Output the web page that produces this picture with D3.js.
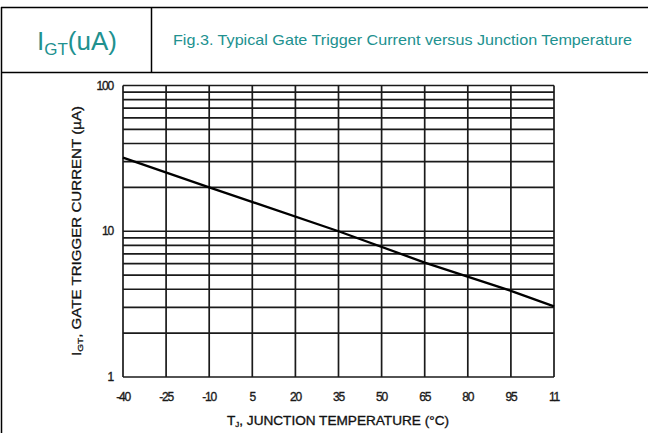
<!DOCTYPE html>
<html><head><meta charset="utf-8">
<script src="https://cdn.jsdelivr.net/npm/d3@7"></script>
<style>body{margin:0;background:#fff}svg{display:block}</style>
</head><body>
<svg id="c" width="648" height="433"></svg>
<script>
const tempTicks = [-40,-25,-10,5,20,35,50,65,80,95,110];
const tempLabels = ["-40","-25","-10","5","20","35","50","65","80","95","11"];
const currentTicks = [1,10,100];
const currentLabels = ["1","10","100"];
const curveTemp = [-40,-10,35,65,95,110];
const curveCurrent = [32,20,10,6.1,3.9,3.05];
const headerLeft = "I";
const headerSub = "GT";
const headerUnit = "(uA)";
const headerTitle = "Fig.3. Typical Gate Trigger Current versus Junction Temperature";

const svg = d3.select("#c");
const teal = "#21918f";
svg.append("line").attr("x1",1).attr("x2",648).attr("y1",7.5).attr("y2",7.5).attr("stroke","#000").attr("stroke-width",1.5);
svg.append("line").attr("x1",1).attr("x2",648).attr("y1",72.5).attr("y2",72.5).attr("stroke","#000").attr("stroke-width",1.5);
svg.append("line").attr("x1",1.5).attr("x2",1.5).attr("y1",7).attr("y2",433).attr("stroke","#000").attr("stroke-width",1.5);
svg.append("line").attr("x1",151.5).attr("x2",151.5).attr("y1",7).attr("y2",72).attr("stroke","#000").attr("stroke-width",1.5);

const h = svg.append("text").attr("x",77).attr("y",50).attr("text-anchor","middle")
  .attr("fill",teal).attr("font-family","Liberation Sans, Arial, sans-serif").attr("font-size",26);
h.append("tspan").text(headerLeft);
h.append("tspan").attr("font-size",17).attr("dy",5).text(headerSub);
h.append("tspan").attr("dy",-5).text(headerUnit);
svg.append("text").attr("x",173).attr("y",45).attr("fill",teal)
  .attr("font-family","Liberation Sans, Arial, sans-serif").attr("font-size",14.2)
  .attr("textLength",459).attr("lengthAdjust","spacingAndGlyphs").text(headerTitle);

const L=123, R=554, T=85.5, B=377;
const x = d3.scaleLinear().domain([-40,110]).range([L,R]);
const y = d3.scaleLog().domain([1,100]).range([B,T]);

const g = svg.append("g");
const hv = [];
for (let d=1; d<100; d*=10) for (let k=1;k<10;k++) hv.push(d*k);
hv.push(100);
g.selectAll("line.h").data(hv).enter().append("line")
  .attr("x1",L).attr("x2",R).attr("y1",d=>y(d)).attr("y2",d=>y(d))
  .attr("stroke","#1a1a1a").attr("stroke-width",1.7);
g.selectAll("line.v").data(tempTicks).enter().append("line")
  .attr("x1",d=>x(d)).attr("x2",d=>x(d)).attr("y1",T).attr("y2",B)
  .attr("stroke","#1a1a1a").attr("stroke-width",1.7);

const line = d3.line().x(d=>x(d[0])).y(d=>y(d[1]));
g.append("path").datum(curveTemp.map((t,i)=>[t,curveCurrent[i]]))
  .attr("d",line).attr("fill","none").attr("stroke","#000").attr("stroke-width",2.3);

const font = "Liberation Sans, Arial, sans-serif";
svg.selectAll("text.xt").data(tempTicks).enter().append("text")
  .attr("x",d=>x(d)).attr("y",401).attr("text-anchor","middle")
  .attr("font-family",font).attr("font-size",12).attr("fill","#1a1a1a")
  .attr("letter-spacing",-1.2)
  .attr("stroke","#1a1a1a").attr("stroke-width",0.35)
  .text((d,i)=>tempLabels[i]);
svg.selectAll("text.yt").data(currentTicks).enter().append("text")
  .attr("x",113).attr("y",d=>y(d)+4).attr("text-anchor","end")
  .attr("font-family",font).attr("font-size",12).attr("fill","#1a1a1a")
  .attr("letter-spacing",-1.2)
  .attr("stroke","#1a1a1a").attr("stroke-width",0.35)
  .text((d,i)=>currentLabels[i]);

const xt = svg.append("text").attr("x",227).attr("y",425)
  .attr("font-family",font).attr("font-size",12).attr("fill","#111")
  .attr("stroke","#111").attr("stroke-width",0.3)
  .attr("textLength",222).attr("lengthAdjust","spacingAndGlyphs");
xt.append("tspan").text("T");
xt.append("tspan").attr("font-size",7).attr("dy",2).text("J");
xt.append("tspan").attr("dy",-2).text(", JUNCTION TEMPERATURE (°C)");

const yt = svg.append("text").attr("transform","translate(81,356) rotate(-90)")
  .attr("font-family",font).attr("font-size",12).attr("fill","#111")
  .attr("stroke","#111").attr("stroke-width",0.3)
  .attr("textLength",250).attr("lengthAdjust","spacingAndGlyphs");
yt.append("tspan").text("I");
yt.append("tspan").attr("font-size",8).attr("dy",2).text("GT");
yt.append("tspan").attr("dy",-2).text(", GATE TRIGGER CURRENT (µA)");
</script>
</body></html>
